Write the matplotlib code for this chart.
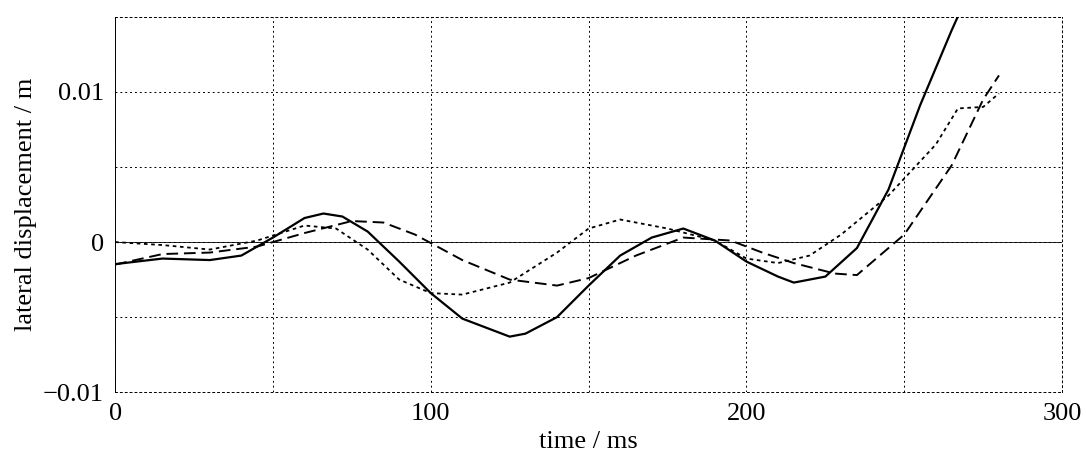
import matplotlib
matplotlib.use("Agg")
import matplotlib.pyplot as plt
from matplotlib.ticker import MultipleLocator, FixedLocator

plt.rcParams["font.family"] = ["Liberation Serif", "DejaVu Serif"]

# solid curve
t_solid = [0, 15, 30, 40, 50, 60, 66, 72, 80, 90, 100, 110, 120, 125, 130, 140, 150,
           160, 170, 180, 190, 200, 210, 215, 225, 235, 245, 255, 265, 268]
y_solid = [-0.00147, -0.0011, -0.0012, -0.0009, 0.0003, 0.0016, 0.0019, 0.0017, 0.0007,
           -0.0013, -0.0034, -0.0051, -0.0059, -0.0063, -0.0061, -0.005, -0.0029, -0.0009,
           0.0003, 0.0009, 0.0001, -0.0013, -0.0023, -0.0027, -0.0023, -0.0004, 0.0035,
           0.0091, 0.0141, 0.0155]

# dashed curve
t_dash = [0, 15, 30, 45, 60, 75, 85, 95, 110, 125, 140, 150, 165, 180, 195, 205, 215,
          228, 235, 250, 265, 275, 280]
y_dash = [-0.0015, -0.0008, -0.0007, -0.0003, 0.0006, 0.0014, 0.0013, 0.0005, -0.0012,
          -0.0025, -0.0029, -0.0024, -0.0009, 0.0003, 0.0001, -0.0007, -0.0014, -0.0021,
          -0.0022, 0.0005, 0.0051, 0.0095, 0.0111]

# dotted curve
t_dot = [0, 15, 30, 45, 60, 70, 80, 90, 100, 110, 125, 140, 150, 160, 175, 190, 200,
         210, 220, 230, 245, 260, 267, 275, 280]
y_dot = [0.0, -0.0002, -0.0005, 0.0001, 0.0011, 0.0009, -0.0005, -0.0025, -0.0034,
         -0.0035, -0.0027, -0.0007, 0.0009, 0.0015, 0.0009, 0.0001, -0.0011, -0.0014,
         -0.0009, 0.0005, 0.0031, 0.0065, 0.0089, 0.009, 0.0099]

fig = plt.figure(figsize=(10.86, 4.68), dpi=100)
ax = fig.add_axes([0.106, 0.162, 0.872, 0.802])

ax.plot(t_solid, y_solid, color="black", lw=1.6, ls="-")
ax.plot(t_dash, y_dash, color="black", lw=1.4, ls=(0, (6, 3)))
ax.plot(t_dot, y_dot, color="black", lw=1.3, ls=(0, (2, 2)))
ax.axhline(0, color="black", lw=0.6)

ax.set_xlim(0, 300)
ax.set_ylim(-0.01, 0.015)
ax.xaxis.set_major_locator(FixedLocator([0, 100, 200, 300]))
ax.xaxis.set_minor_locator(MultipleLocator(50))
ax.yaxis.set_major_locator(FixedLocator([-0.01, 0, 0.01]))
ax.yaxis.set_minor_locator(MultipleLocator(0.005))
ax.set_yticklabels(["\u22120.01", "0", "0.01"])
ax.grid(True, which="both", color="black", ls=(0, (2, 3)), lw=0.7)
ax.tick_params(which="both", length=0, labelsize=19, pad=8)
for s in ax.spines.values():
    s.set_linewidth(0.7)
    s.set_linestyle((0, (2, 3)))
ax.spines["left"].set_linestyle("-")
ax.set_xlabel("time / ms", fontsize=19)
ax.set_ylabel("lateral displacement / m", fontsize=19)

fig.savefig("out.png", dpi=100)
